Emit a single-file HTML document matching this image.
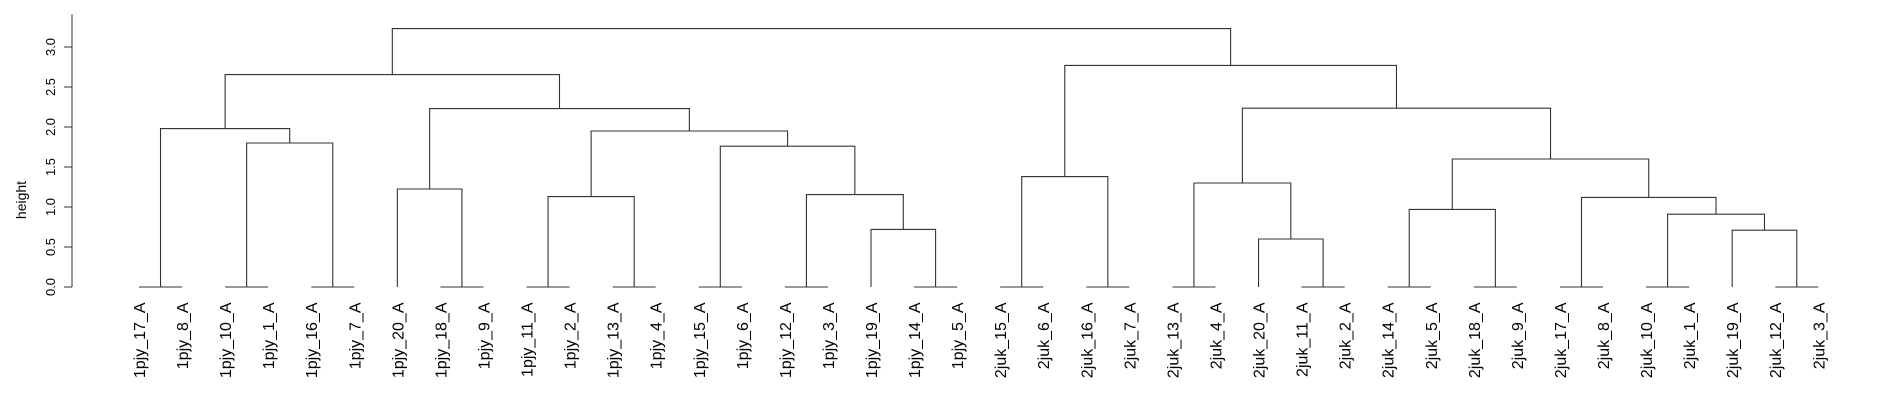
<!DOCTYPE html>
<html><head><meta charset="utf-8"><style>
html,body{margin:0;padding:0;background:#fff;}
svg{display:block;font-family:"Liberation Sans",sans-serif;}
</style></head><body>
<svg id="chart" width="1900" height="400" viewBox="0 0 1900 400" xmlns="http://www.w3.org/2000/svg">
<g id="axis"></g>
<g id="tree"></g>
<g id="labels"></g>
<text x="0" y="0" transform="translate(26,200) rotate(-90)" text-anchor="middle" font-size="14" fill="#000">height</text>
</svg>
<script>
const leafLabels = ["1pjy_17_A","1pjy_8_A","1pjy_10_A","1pjy_1_A","1pjy_16_A","1pjy_7_A","1pjy_20_A","1pjy_18_A","1pjy_9_A","1pjy_11_A","1pjy_2_A","1pjy_13_A","1pjy_4_A","1pjy_15_A","1pjy_6_A","1pjy_12_A","1pjy_3_A","1pjy_19_A","1pjy_14_A","1pjy_5_A","2juk_15_A","2juk_6_A","2juk_16_A","2juk_7_A","2juk_13_A","2juk_4_A","2juk_20_A","2juk_11_A","2juk_2_A","2juk_14_A","2juk_5_A","2juk_18_A","2juk_9_A","2juk_17_A","2juk_8_A","2juk_10_A","2juk_1_A","2juk_19_A","2juk_12_A","2juk_3_A"];
// R-style merge: negative = leaf (1-based), positive = merge step (1-based)
const mergeLeft  = [-1,-3,-5,-8,-10,-12,-14,-16,-19,-21,-23,-25,-28,-30,-32,-34,-36,-39,-27,-38,-18,17,14,16,5,8,-7,12,10,23,7,2,25,1,27,28,34,29,37];
const mergeRight = [-2,-4,-6,-9,-11,-13,-15,-17,-20,-22,-24,-26,-29,-31,-33,-35,-37,-40,13,18,9,20,15,22,6,21,4,19,11,24,26,3,31,32,33,30,35,36,38];
const mergeHeight = [0,0,0,0,0,0,0,0,0,0,0,0,0,0,0,0,0,0,0.60,0.71,0.72,0.91,0.97,1.12,1.13,1.155,1.225,1.30,1.38,1.60,1.76,1.80,1.95,1.98,2.23,2.235,2.655,2.77,3.23];
const yTicks = [0,0.5,1,1.5,2,2.5,3];
const yTickLabels = ["0.0","0.5","1.0","1.5","2.0","2.5","3.0"];

const NS = "http://www.w3.org/2000/svg";
const X0 = 139, X1 = 1818.3, Y0 = 287, PXU = 80;
const xScale = i => X0 + i * (X1 - X0) / (leafLabels.length - 1);
const yScale = h => Y0 - h * PXU;
const stroke = "#333";

function mk(tag, attrs, parent){
  const e = document.createElementNS(NS, tag);
  for (const k in attrs) e.setAttribute(k, attrs[k]);
  parent.appendChild(e);
  return e;
}

// axis
const ax = document.getElementById('axis');
const axLine = mk('line', {x1:72, x2:72, y1:14.3, y2:Y0, stroke:stroke, 'stroke-width':1}, ax);


yTicks.forEach((t, i) => {
  const y = yScale(t);
  const tk = mk('line', {x1:64, x2:72, y1:y, y2:y, stroke:stroke, 'stroke-width':1}, ax);
  
  
  const tl = mk('text', {transform:`translate(55,${y}) rotate(-90)`, 'text-anchor':'middle', 'font-size':13, fill:'#000'}, ax);
  tl.textContent = yTickLabels[i];
  
  
});

// tree
const tree = document.getElementById('tree');
const nodeX = [], nodeH = [];
function pos(ref){
  if (ref < 0) return [xScale(-ref - 1), 0];
  return [nodeX[ref - 1], nodeH[ref - 1]];
}
for (let m = 0; m < mergeLeft.length; m++){
  const [xl, hl] = pos(mergeLeft[m]);
  const [xr, hr] = pos(mergeRight[m]);
  const h = mergeHeight[m];
  const y = yScale(h);
  const p = mk('path', {d:`M${xl},${yScale(hl)}V${y}H${xr}V${yScale(hr)}`, fill:'none', stroke:stroke, 'stroke-width':1.1}, tree);
  
  
  nodeX.push((xl + xr) / 2);
  nodeH.push(h);
}

// labels
const lg = document.getElementById('labels');
leafLabels.forEach((lab, i) => {
  const x = xScale(i) + 6;
  const t = mk('text', {transform:`translate(${x},302.5) rotate(-90)`, 'text-anchor':'end', 'font-size':16, fill:'#000'}, lg);
  t.textContent = lab;
  
  
});
</script>
</body></html>
